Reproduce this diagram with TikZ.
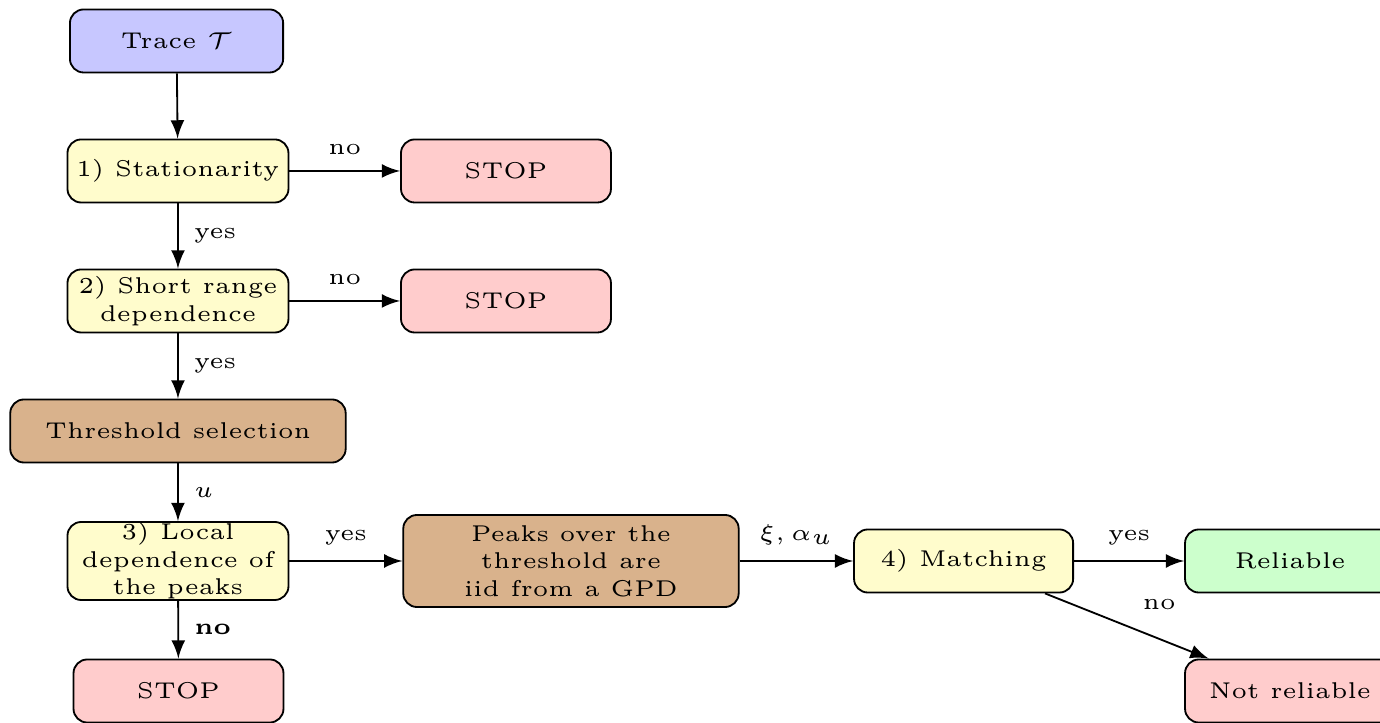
\documentclass[tikz,border=0pt]{standalone}
\usetikzlibrary{positioning}
\usetikzlibrary{arrows}
\tikzset{% boxes and arrows of the chart
  block/.style={draw, rounded corners=3pt, minimum width=1.7cm, minimum height=0.485cm, align=center},
  test/.style={block, fill=yellow!20},
  stopbox/.style={block, fill=red!20, minimum width=1.615cm},
  estim/.style={block, fill=brown!60, minimum width=2.58cm},
  line/.style={draw, ->, >=latex}
}

\begin{document}
\begin{tikzpicture}[font=\tiny]
\useasboundingbox (0,0) rectangle (10.615,-5.554);
\node [block, fill=blue!22, minimum width=1.64cm] (trace) at (1.358,-0.315) {Trace $\mathcal{T}$};
\node [test, inner xsep=1.2pt] (stat) at (1.369,-1.315) {1) Stationarity};
\node [stopbox] (stopa) at (3.892,-1.315) {STOP};
\node [test, inner sep=1pt] (srd) at (1.369,-2.315) {2) Short range\\dependence};
\node [stopbox] (stopb) at (3.892,-2.315) {STOP};
\node [estim] (thr) at (1.369,-3.315) {Threshold selection};
\node [test, inner sep=0pt, minimum height=0.6cm] (local) at (1.369,-4.315) {3) Local\\dependence of\\the peaks};
\node [stopbox] (stopc) at (1.373,-5.315) {STOP};
\node [estim, inner sep=1.5pt, minimum height=0.708cm] (peaks) at (4.392,-4.315) {Peaks over the\\threshold are\\iid from a GPD};
\node [test, minimum width=1.685cm] (match) at (7.412,-4.315) {4) Matching};
\node [block, fill=green!20, minimum width=1.615cm] (rel) at (9.923,-4.315) {Reliable};
\node [stopbox] (notrel) at (9.923,-5.315) {Not reliable};
\draw [line] (trace) -- (stat);
\draw [line] (stat) -- node [above] {no} (stopa);
\draw [line] (stat) -- node [right] {yes} (srd);
\draw [line] (srd) -- node [above] {no} (stopb);
\draw [line] (srd) -- node [right] {yes} (thr);
\draw [line] (thr) -- node [right] {$u$} (local);
\draw [line] (local) -- node [right] {\textbf{no}} (stopc);
\draw [line] (local) -- node [above] {yes} (peaks);
\draw [line] (peaks) -- node [above] {$\xi, \alpha_u$} (match);
\draw [line] (match) -- node [above] {yes} (rel);
\draw [line] (match) -- node [above right] {no} (notrel);
\end{tikzpicture}
\end{document}
